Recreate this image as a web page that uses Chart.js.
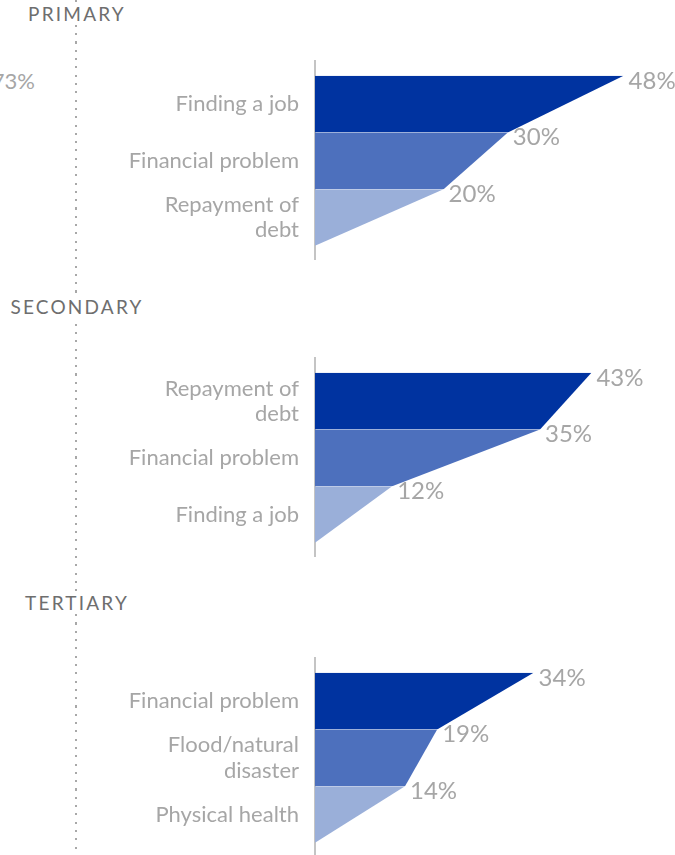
<!DOCTYPE html>
<html>
<head>
<meta charset="utf-8">
<script src="https://cdn.jsdelivr.net/npm/chart.js@4.4.0/dist/chart.umd.min.js"></script>
<style>
    body { margin: 0; width: 675px; height: 855px; position: relative; overflow: hidden; background: #fff; font-family: Lato, sans-serif; }
    .painel { position: absolute; left: 0; }
    /* linha pontilhada que separa os titulos */
    .pontilhado { position: absolute; left: 75px; top: 0; width: 2px; height: 855px;
        background: repeating-linear-gradient(to bottom, #A8A8A8 0px, #A8A8A8 2px, transparent 2px, transparent 8.3px); }
    .titulo { position: absolute; left: 77px; transform: translateX(-50%); font-size: 19px; line-height: 20px;
        letter-spacing: 2.2px; color: #6E6E6E; background: #fff; padding: 0 1px; white-space: nowrap; }
    .cortado { position: absolute; right: 640px; top: 70px; font-size: 22px; line-height: 22px; color: #A6A6A6; white-space: nowrap; }
</style>
</head>
<body>
<div class="pontilhado"></div>
<div class="cortado">73%</div>
<div class="titulo" id="tituloPrimary" style="top:4px"></div>
<div class="titulo" id="tituloSecondary" style="top:297px"></div>
<div class="titulo" id="tituloTertiary" style="top:593px"></div>
<canvas id="graficoPrimary" class="painel" width="675" height="200" style="top:60px"></canvas>
<canvas id="graficoSecondary" class="painel" width="675" height="200" style="top:357px"></canvas>
<canvas id="graficoTertiary" class="painel" width="675" height="200" style="top:657px"></canvas>
<script>
// Dados de cada nivel (percentual por motivo)
var titulos = ['PRIMARY', 'SECONDARY', 'TERTIARY'];

var categoriasPrimary = ['Finding a job', 'Financial problem', ['Repayment of', 'debt']];
var valoresPrimary = [48, 30, 20];

var categoriasSecondary = [['Repayment of', 'debt'], 'Financial problem', 'Finding a job'];
var valoresSecondary = [43, 35, 12];

var categoriasTertiary = ['Financial problem', ['Flood/natural', 'disaster'], 'Physical health'];
var valoresTertiary = [34, 19, 14];

var cores = ['#0033A0', '#4D70BD', '#9AAFD9'];

document.getElementById('tituloPrimary').textContent = titulos[0];
document.getElementById('tituloSecondary').textContent = titulos[1];
document.getElementById('tituloTertiary').textContent = titulos[2];

// Escreve o valor ao lado do canto de cada faixa
var rotulos = {
    id: 'rotulos',
    afterDatasetsDraw: function (chart) {
        var ctx = chart.ctx;
        ctx.save();
        ctx.font = '24px Lato';
        ctx.fillStyle = '#A6A6A6';
        ctx.textBaseline = 'middle';
        chart.data.datasets.forEach(function (ds, i) {
            var p = chart.getDatasetMeta(i).data[0];
            ctx.fillText(ds.data[0].x + '%', p.x + 5, p.y + 5);
        });
        ctx.restore();
    }
};

function criarGrafico(id, categorias, valores) {
    // cada faixa vai do seu valor ate o valor da faixa de baixo; a ultima fecha no eixo (0)
    var pontos = valores.concat([0]);
    var datasets = valores.map(function (v, i) {
        return {
            data: [{ x: pontos[i], y: i }, { x: pontos[i + 1], y: i + 1 }],
            backgroundColor: cores[i],
            borderWidth: 0,
            pointRadius: 0,
            tension: 0,
            fill: 'origin'
        };
    });

    return new Chart(document.getElementById(id), {
        type: 'line',
        data: { datasets: datasets },
        options: {
            indexAxis: 'y',
            responsive: false,
            animation: false,
            layout: { padding: 0 },
            plugins: {
                legend: { display: false },
                tooltip: { enabled: false }
            },
            scales: {
                x: { type: 'linear', display: false, min: 0, max: 56 },
                y: {
                    type: 'linear',
                    reverse: true,
                    min: -0.28,
                    max: 3.25,
                    // um rotulo no meio de cada faixa
                    afterBuildTicks: function (scale) {
                        scale.ticks = categorias.map(function (c, i) { return { value: i + 0.5 }; });
                    },
                    afterFit: function (scale) {
                        scale.width = 315;
                        // sem folga em cima/embaixo, o eixo ocupa a altura toda
                        scale.paddingTop = 0;
                        scale.paddingBottom = 0;
                    },
                    grid: { display: false, drawTicks: false },
                    border: { display: true, color: '#C4C4C4', width: 2 },
                    ticks: {
                        autoSkip: false,
                        padding: 16,
                        color: '#A6A6A6',
                        font: { family: 'Lato', size: 22, lineHeight: 1.15 },
                        callback: function (value, index) {
                            return categorias[index];
                        }
                    }
                }
            }
        },
        plugins: [rotulos]
    });
}

criarGrafico('graficoPrimary', categoriasPrimary, valoresPrimary);
criarGrafico('graficoSecondary', categoriasSecondary, valoresSecondary);
criarGrafico('graficoTertiary', categoriasTertiary, valoresTertiary);
</script>
</body>
</html>
